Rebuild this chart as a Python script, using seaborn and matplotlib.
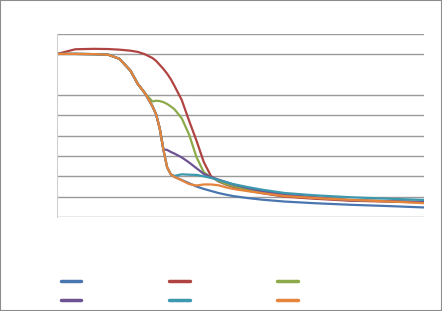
import numpy as np
import pandas as pd
import matplotlib
matplotlib.use("Agg")
import matplotlib.pyplot as plt
import seaborn as sns
from matplotlib.lines import Line2D
from matplotlib.patches import Rectangle

# ---- data ----
x = [0, 5, 10, 14, 17, 20, 22, 24, 26, 27, 28, 29, 30, 31, 32, 34, 36, 38, 40,
     42, 44, 46, 48, 52, 56, 62, 70, 80, 90, 100]

s1 = [8.02, 8.02, 8.01, 7.98, 7.78, 7.2, 6.55, 6.08, 5.45, 5.05, 4.35, 3.3, 2.45, 2.1,
      1.97, 1.82, 1.66, 1.5, 1.38, 1.28, 1.18, 1.1, 1.03, 0.93, 0.85, 0.76, 0.68, 0.6, 0.54, 0.47]
s2 = [8.02, 8.25, 8.27, 8.26, 8.23, 8.18, 8.12, 8.0, 7.82, 7.68, 7.48, 7.28, 7.05, 6.78,
      6.45, 5.75, 4.73, 3.76, 2.7, 2.0, 1.75, 1.6, 1.48, 1.3, 1.17, 1.0, 0.9, 0.8, 0.76, 0.72]
s3 = [8.02, 8.02, 8.01, 7.98, 7.78, 7.2, 6.55, 6.08, 5.68, 5.72, 5.7, 5.65, 5.56, 5.44,
      5.3, 4.85, 4.05, 2.95, 2.2, 1.95, 1.78, 1.62, 1.52, 1.35, 1.22, 1.06, 0.95, 0.84, 0.78, 0.74]
s4 = [8.02, 8.02, 8.01, 7.98, 7.78, 7.2, 6.55, 6.08, 5.45, 5.05, 4.35, 3.32, 3.3, 3.2,
      3.12, 2.93, 2.68, 2.4, 2.12, 1.96, 1.84, 1.72, 1.6, 1.42, 1.27, 1.1, 0.98, 0.82, 0.78, 0.74]
s5 = [8.02, 8.02, 8.01, 7.98, 7.78, 7.2, 6.55, 6.08, 5.45, 5.05, 4.35, 3.3, 2.45, 2.1,
      2.02, 2.1, 2.08, 2.07, 2.0, 1.92, 1.82, 1.72, 1.62, 1.47, 1.34, 1.18, 1.07, 0.97, 0.9, 0.84]
s6 = [8.02, 8.02, 8.01, 7.98, 7.78, 7.2, 6.55, 6.08, 5.45, 5.05, 4.35, 3.3, 2.45, 2.1,
      1.97, 1.8, 1.62, 1.55, 1.6, 1.6, 1.56, 1.46, 1.38, 1.27, 1.17, 1.03, 0.94, 0.84, 0.77, 0.68]

series_names = ["s1", "s2", "s3", "s4", "s5", "s6"]
series_values = [s1, s2, s3, s4, s5, s6]
colors = ["#4A76B0", "#B04442", "#8CAA4A", "#6E5392", "#3C98AE", "#E5843A"]
y_ticks = [0, 1, 2, 3, 4, 5, 6, 8, 9]

df = pd.concat(
    [pd.DataFrame({"x": x, "y": v, "series": n}) for n, v in zip(series_names, series_values)],
    ignore_index=True,
)

# ---- figure ----
sns.set_style("white")
fig = plt.figure(figsize=(4.42, 3.11), dpi=100)
ax = fig.add_axes([57 / 442, 1 - 217 / 311, (424 - 57) / 442, (217 - 34) / 311])

sns.lineplot(data=df, x="x", y="y", hue="series", palette=colors,
             hue_order=series_names, linewidth=1.6, legend=False, ax=ax,
             estimator=None, sort=False)

ax.set_xlim(0, 100)
ax.set_ylim(0, 9)
ax.set_yticks(y_ticks)
ax.set_xticks([])
ax.yaxis.grid(True, color="#9a9a9a", linewidth=1.0)
ax.set_axisbelow(True)
ax.tick_params(left=False, bottom=False, labelleft=False, labelbottom=False)
ax.set_xlabel("")
ax.set_ylabel("")
for side in ["top", "right", "bottom"]:
    ax.spines[side].set_visible(False)
ax.spines["left"].set_color("#d0d0d0")
ax.spines["left"].set_linewidth(0.8)

# legend: row 1 = s1, s2, s3 ; row 2 = s4, s5, s6 (matplotlib fills by column)
order = [0, 3, 1, 4, 2, 5]
handles = [Line2D([0], [0], color=colors[i], linewidth=2.5) for i in order]
leg = fig.legend(handles, [""] * 6, ncol=3, loc="upper left",
                 bbox_to_anchor=(48 / 442, 1 - 262 / 311),
                 frameon=False, handlelength=1.5, handletextpad=0.0,
                 columnspacing=6.3, labelspacing=0.35, fontsize=10)

fig.patches.append(Rectangle((0, 0), 1, 1, transform=fig.transFigure,
                             fill=False, edgecolor="#8c8c8c", linewidth=1.5))

fig.savefig("out.png", dpi=100)
